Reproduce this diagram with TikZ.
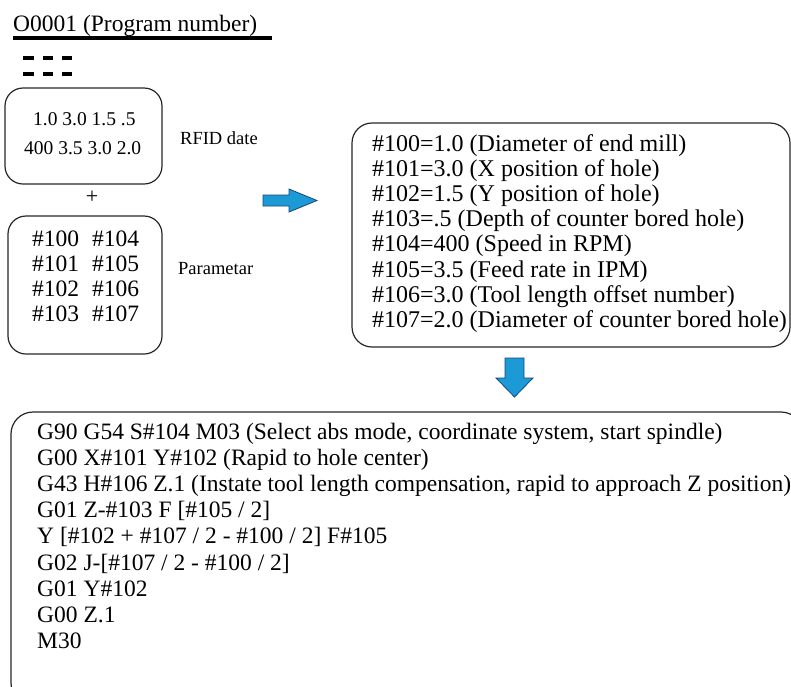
\documentclass[tikz,border=0pt]{standalone}
\usepackage{fontspec}
\setmainfont{Liberation Serif}
\definecolor{arrowfill}{RGB}{27,154,214}
\definecolor{arrowedge}{RGB}{24,70,120}
\begin{document}
\begin{tikzpicture}[x=1pt,y=-1pt,
  box/.style={draw=black!85,line width=1.2pt,rounded corners=18pt},
  blockarrow/.style={fill=arrowfill,draw=arrowedge,line width=0.8pt,line join=miter},
  txt/.style={anchor=base west,inner sep=0pt,font=\fontsize{23.5}{26}\selectfont},
  wide/.style={anchor=base west,inner sep=0pt,font=\fontsize{24}{26}\selectfont},
  small/.style={anchor=base west,inner sep=0pt,font=\fontsize{19.5}{22}\selectfont},
  lbl/.style={anchor=base west,inner sep=0pt,font=\fontsize{18.5}{21}\selectfont}]
\useasboundingbox (0,0) rectangle (791,686);
\clip (0,0) rectangle (791,686);

% program header
\node[txt] (title) at (13,31) {O0001 (Program number)};
\coordinate (ulA) at (13,38);
\coordinate (ulB) at (272,38);
\draw[line width=3.2pt] (ulA) -- (ulB);
\foreach \r in {58,74}{
  \foreach \a/\b in {23/34,43/53,62/72}
    \draw[line width=3.2pt] (\a,\r) -- (\b,\r);
}

% RFID data block
\draw[box] (5,88) rectangle (162,184);
\node[small] (rfid1) at (33,125) {1.0 3.0 1.5 .5};
\node[small] (rfid2) at (24,154) {400 3.5 3.0 2.0};
\node[lbl] (rfidlbl) at (180,144) {RFID date};
\node[font=\fontsize{22}{24}\selectfont] (plus) at (92,197) {+};

% parameter block
\draw[box] (8,216) rectangle (162,354);
\foreach \l/\r [count=\i] in {100/104,101/105,102/106,103/107}{
  \node[txt] (pl\i) at (32,{246+25*(\i-1)}) {\#\l};
  \node[txt] (pr\i) at (92,{246+25*(\i-1)}) {\#\r};
}
\node[lbl] (parlbl) at (178,274) {Parametar};

% arrow to the assignment block
\draw[blockarrow] (263,195) -- (289,195) -- (289,189) -- (317,200.5)
  -- (289,212) -- (289,206) -- (263,206) -- cycle;

% variable assignments
\draw[box,rounded corners=20pt] (352,123) rectangle (790,347);
\foreach \t [count=\i] in {
  {\#100=1.0 (Diameter of end mill)},
  {\#101=3.0 (X position of hole)},
  {\#102=1.5 (Y position of hole)},
  {\#103=.5 (Depth of counter bored hole)},
  {\#104=400 (Speed in RPM)},
  {\#105=3.5 (Feed rate in IPM)},
  {\#106=3.0 (Tool length offset number)},
  {\#107=2.0 (Diameter of counter bored hole)}}
  \node[wide] (v\i) at (372,{151+25.2*(\i-1)}) {\t};

% arrow down to the macro program
\draw[blockarrow] (505,358) -- (524,358) -- (524,378) -- (533,378)
  -- (514.5,397) -- (496,378) -- (505,378) -- cycle;

% macro program
\draw[box,rounded corners=22pt] (11,412) rectangle (803,705);
\foreach \t [count=\i] in {
  {G90 G54 S\#104 M03 (Select abs mode, coordinate system, start spindle)},
  {G00 X\#101 Y\#102 (Rapid to hole center)},
  {G43 H\#106 Z.1 (Instate tool length compensation, rapid to approach Z position)},
  {G01 Z-\#103 F [\#105 / 2]},
  {Y [\#102 + \#107 / 2 - \#100 / 2] F\#105},
  {G02 J-[\#107 / 2 - \#100 / 2]},
  {G01 Y\#102},
  {G00 Z.1},
  {M30}}
  \node[txt] (g\i) at (37,{439+26.2*(\i-1)}) {\t};
\end{tikzpicture}
\end{document}
